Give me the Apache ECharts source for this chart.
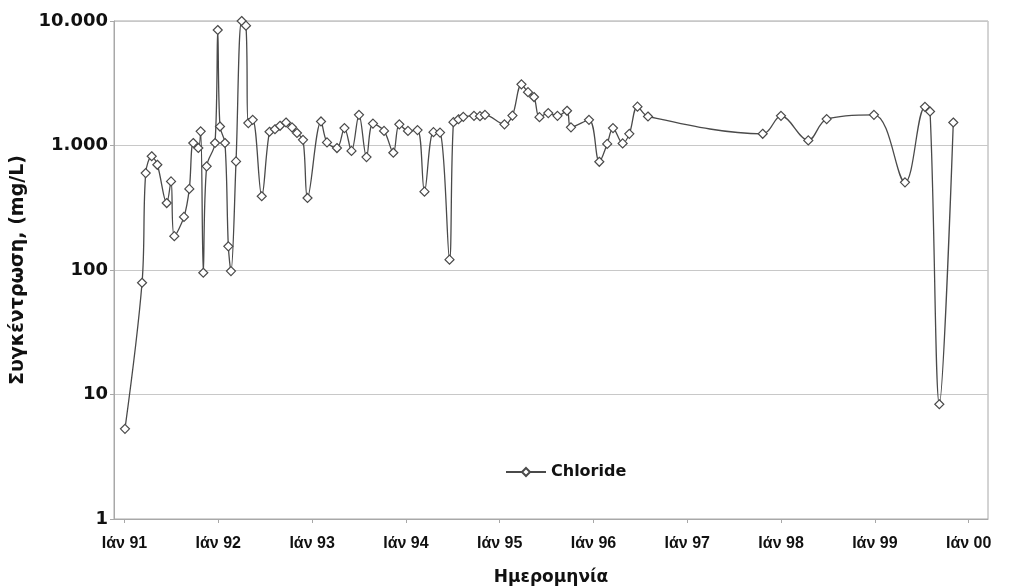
<!DOCTYPE html>
<html>
<head>
<meta charset="utf-8">
<script src="https://cdn.jsdelivr.net/npm/echarts@6/dist/echarts.min.js"></script>
<style>
  html, body { margin: 0; padding: 0; background: #fff; }
  #chart { width: 1016px; height: 587px; }
</style>
</head>
<body>
<div id="chart"></div>
<script>
  // dates as decimal years
  var dates = [
    1991.005, 1991.187, 1991.226, 1991.290, 1991.350, 1991.450, 1991.496, 1991.531,
    1991.634, 1991.691, 1991.733, 1991.787, 1991.812, 1991.840, 1991.876, 1991.965,
    1991.994, 1992.018, 1992.071, 1992.107, 1992.135, 1992.189, 1992.249, 1992.295,
    1992.320, 1992.367, 1992.463, 1992.546, 1992.604, 1992.658, 1992.722, 1992.786,
    1992.839, 1992.903, 1992.951, 1993.095, 1993.159, 1993.265, 1993.345, 1993.420,
    1993.500, 1993.580, 1993.649, 1993.767, 1993.866, 1993.930, 1994.022, 1994.124,
    1994.198, 1994.294, 1994.364, 1994.465, 1994.507, 1994.561, 1994.612, 1994.726,
    1994.790, 1994.843, 1995.051, 1995.136, 1995.232, 1995.302, 1995.366, 1995.424,
    1995.518, 1995.616, 1995.718, 1995.760, 1995.952, 1996.062, 1996.146, 1996.208,
    1996.311, 1996.382, 1996.469, 1996.581, 1997.804, 1997.999, 1998.290, 1998.486,
    1998.990, 1999.321, 1999.534, 1999.588, 1999.687, 1999.836
  ]
  // Chloride, mg/L
  var chloride = [
    5.3, 79, 600, 820, 700, 345, 515, 187,
    267, 448, 1047, 955, 1300, 95, 680, 1047,
    8470, 1420, 1047, 155, 98, 745, 10000, 9180,
    1513, 1607, 391, 1290, 1350, 1440, 1530, 1400,
    1260, 1110, 379, 1560, 1059, 954, 1380, 905,
    1764, 807, 1500, 1310, 875, 1480, 1310, 1330,
    426, 1280, 1270, 121, 1540, 1625, 1700, 1730,
    1720, 1764, 1480, 1740, 3100, 2680, 2450, 1690,
    1820, 1730, 1900, 1400, 1607, 740, 1030, 1380,
    1040, 1240, 2050, 1710, 1242, 1731, 1099, 1629,
    1764, 506, 2045, 1875, 8.35, 1530
  ]
  var yearTicks = [1991, 1992, 1993, 1994, 1995, 1996, 1997, 1998, 1999, 2000]

  var chartInstance = echarts.init(document.getElementById('chart'))
  var font = 'Liberation Sans, Arial, sans-serif'
  var wide = 'DejaVu Sans, sans-serif'

  var option = {
    backgroundColor: '#fff',
    animation: false,
    grid: {
      left: 114,
      right: 28,
      top: 21,
      bottom: 68,
      outerBoundsMode: 'none',
      show: true,
      borderColor: '#a8a8a8',
      borderWidth: 1
    },
    legend: {
      left: 500,
      top: 459,
      itemWidth: 40,
      itemHeight: 10,
      itemGap: 8,
      textStyle: { fontFamily: wide, fontWeight: 'bold', fontSize: 16, color: '#111' },
      data: ['Chloride']
    },
    xAxis: {
      type: 'value',
      min: 1990.888,
      max: 2000.206,
      name: 'Ημερομηνία',
      nameLocation: 'middle',
      nameGap: 50,
      nameTextStyle: { fontFamily: wide, fontWeight: 'bold', fontSize: 17, color: '#111' },
      axisLine: { lineStyle: { color: '#a8a8a8' } },
      axisTick: { customValues: yearTicks, length: 4, lineStyle: { color: '#a8a8a8' } },
      splitLine: { show: false },
      axisLabel: {
        customValues: yearTicks,
        margin: 17,
        fontFamily: font,
        fontWeight: 'bold',
        fontSize: 16,
        color: '#111',
        formatter: function (v) {
          return 'Ιάν ' + String(Math.round(v)).slice(2)
        }
      }
    },
    yAxis: {
      type: 'log',
      logBase: 10,
      min: 1,
      max: 10000,
      name: 'Συγκέντρωση, (mg/L)',
      nameLocation: 'middle',
      nameRotate: 90,
      nameGap: 77,
      nameTextStyle: { fontFamily: wide, fontWeight: 'bold', fontSize: 19, color: '#111' },
      axisLine: { show: true, lineStyle: { color: '#a8a8a8' } },
      axisTick: { show: true, length: 4, lineStyle: { color: '#a8a8a8' } },
      splitLine: { lineStyle: { color: '#c8c8c8' } },
      axisLabel: {
        margin: 6,
        fontFamily: wide,
        fontWeight: 'bold',
        fontSize: 18,
        color: '#111',
        formatter: function (v) {
          return String(Math.round(v)).replace(/\B(?=(\d{3})+$)/g, '.')
        }
      }
    },
    series: [{
      name: 'Chloride',
      type: 'line',
      data: dates.map(function (d, i) { return [d, chloride[i]] }),
      smooth: 0.35,
      symbol: 'diamond',
      symbolSize: 9,
      showAllSymbol: true,
      lineStyle: { color: '#4a4a4a', width: 1.3 },
      itemStyle: { color: '#fff', borderColor: '#4a4a4a', borderWidth: 1.2 }
    }]
  }
  chartInstance.setOption(option)
</script>
</body>
</html>
